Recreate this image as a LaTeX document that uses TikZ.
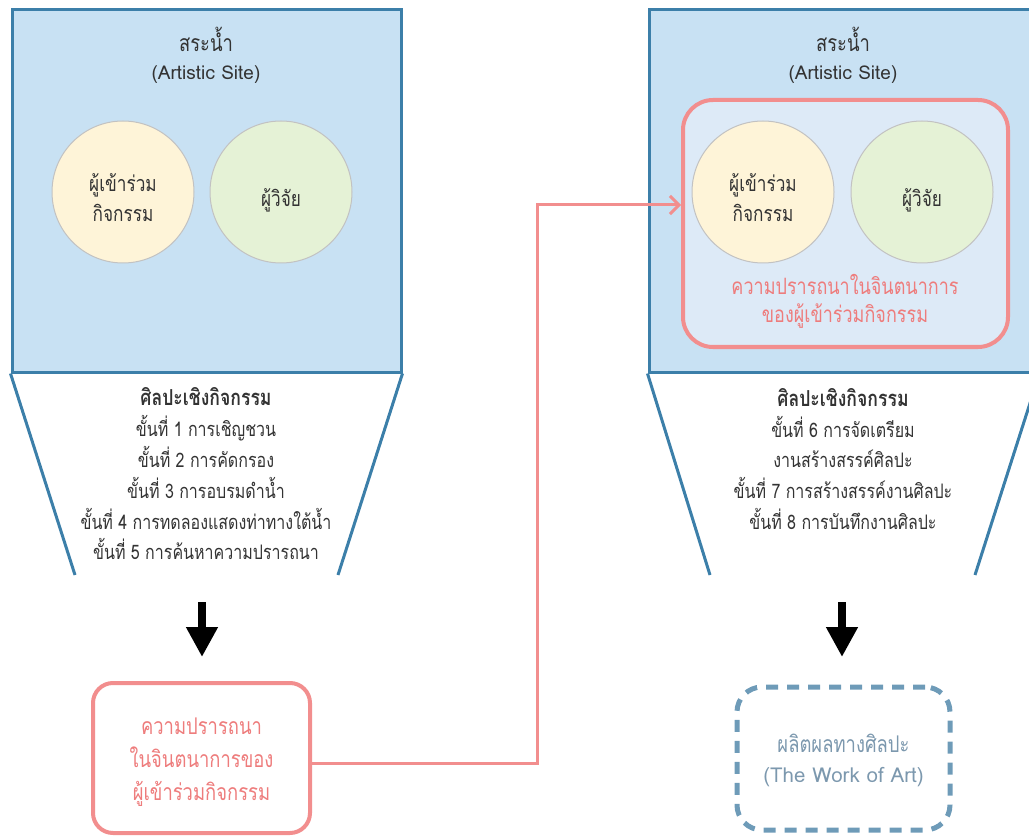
\documentclass[tikz,border=0pt]{standalone}
\usepackage{fontspec}
\setmainfont{Loma}[Script=Thai, FakeStretch=0.8]
\newfontfamily\latinfont{Loma}
\usetikzlibrary{arrows.meta,calc}

\definecolor{siteblue}{HTML}{C8E1F3}
\definecolor{siteedge}{HTML}{3C7FA9}
\definecolor{ringgray}{HTML}{C2C2C2}
\definecolor{cream}{HTML}{FEF4D8}
\definecolor{mint}{HTML}{E5F2D6}
\definecolor{wishpink}{HTML}{F28E8E}
\definecolor{wishtext}{HTML}{EE7C7C}
\definecolor{innerblue}{HTML}{DDEAF7}
\definecolor{artedge}{HTML}{6E9BB8}
\definecolor{arttext}{HTML}{7C98AE}
\definecolor{ink}{HTML}{333333}

\newcommand{\fs}[2]{\fontsize{#1pt}{#2pt}\selectfont}

\tikzset{
  sitebox/.style={draw=siteedge, fill=siteblue, line width=3pt, minimum width=389pt, minimum height=362pt, inner sep=0pt},
  funnel/.style={draw=siteedge, line width=3pt},
  person/.style={circle, draw=ringgray, line width=1pt, minimum size=142pt, inner sep=0pt, fill=#1},
  persontext/.style={text=ink, align=center, font=\fs{21.5}{30}},
  label/.style={text=ink, align=center, font=\fs{23}{28}},
  steps/.style={text=ink, align=center, font=\fs{20}{30.8}},
  wishbox/.style={draw=wishpink, fill=white, line width=4pt, rounded corners=20pt, minimum width=217pt, minimum height=150pt},
  wishframe/.style={draw=wishpink, fill=innerblue, line width=4pt, rounded corners=30pt, minimum width=325pt, minimum height=247pt, inner sep=0pt},
  wishlabel/.style={text=wishtext, align=center, font=\fs{22.5}{28}},
  wishlines/.style={text=wishtext, align=center, font=\fs{23}{33}},
  artbox/.style={draw=artedge, line width=5pt, dash pattern=on 12pt off 9pt, rounded corners=25pt, minimum width=213pt, minimum height=143pt},
  arttxt/.style={text=arttext, align=center, font=\fs{23}{30}},
  bigarrow/.style={line width=8pt, -{Triangle[width=30pt,length=30pt]}},
  flow/.style={draw=wishpink, line width=3pt, -{Straight Barb[length=9pt,width=18pt,line width=3pt]}}
}

\begin{document}
\begin{tikzpicture}[x=1pt,y=-1pt]
\useasboundingbox (0,0) rectangle (1029,837);
\clip (0,0) rectangle (1029,837);

% ---- first stage: the pool as artistic site
\node[sitebox] (siteL) at (206.5,191) {};
\coordinate (fL1) at (75,575);
\coordinate (fL2) at (338,575);
\draw[funnel] (siteL.south west) -- (fL1);
\draw[funnel] (siteL.south east) -- (fL2);
\node[label] (titleL) at (206,55) {สระน้ำ\\{\latinfont\fs{19}{28}(Artistic Site)}};
\node[person=cream] (partL) at (123,192) {};
\node[person=mint] (resL) at (281,192) {};
\node[persontext] (partLtxt) at (123,198) {ผู้เข้าร่วม\\กิจกรรม};
\node[persontext] (resLtxt) at (281,200) {ผู้วิจัย};
\node[steps] (stepsL) at (206,474) {{\fs{22}{30.8}\bfseries ศิลปะเชิงกิจกรรม}\\ขั้นที่ 1 การเชิญชวน\\ขั้นที่ 2 การคัดกรอง\\ขั้นที่ 3 การอบรมดำน้ำ\\ขั้นที่ 4 การทดลองแสดงท่าทางใต้น้ำ\\ขั้นที่ 5 การค้นหาความปรารถนา};

\coordinate (aL1) at (202,602);
\coordinate (aL2) at (202,657);
\draw[bigarrow] (aL1) -- (aL2);

\node[wishbox] (wish) at (201.5,758) {};
\node[wishlines] (wishtxt) at (201.5,762) {ความปรารถนา\\ในจินตนาการของ\\ผู้เข้าร่วมกิจกรรม};

% ---- second stage
\node[sitebox] (siteR) at (843.5,191) {};
\coordinate (fR1) at (710,575);
\coordinate (fR2) at (975,575);
\draw[funnel] (siteR.south west) -- (fR1);
\draw[funnel] (siteR.south east) -- (fR2);
\node[label] (titleR) at (843,55) {สระน้ำ\\{\latinfont\fs{19}{28}(Artistic Site)}};
\node[wishframe] (frame) at (845.5,223.5) {};
\node[person=cream] (partR) at (763,192) {};
\node[person=mint] (resR) at (922,192) {};
\node[persontext] (partRtxt) at (763,198) {ผู้เข้าร่วม\\กิจกรรม};
\node[persontext] (resRtxt) at (922,200) {ผู้วิจัย};
\node[wishlabel] (wishR) at (845,301) {ความปรารถนาในจินตนาการ\\ของผู้เข้าร่วมกิจกรรม};
\node[steps] (stepsR) at (843,459) {{\fs{22}{30.8}\bfseries ศิลปะเชิงกิจกรรม}\\ขั้นที่ 6 การจัดเตรียม\\งานสร้างสรรค์ศิลปะ\\ขั้นที่ 7 การสร้างสรรค์งานศิลปะ\\ขั้นที่ 8 การบันทึกงานศิลปะ};

\coordinate (aR1) at (842,602);
\coordinate (aR2) at (842,657);
\draw[bigarrow] (aR1) -- (aR2);

\node[artbox] (art) at (843.5,758.5) {};
\node[arttxt] (arttext) at (843.5,760) {ผลิตผลทางศิลปะ\\{\latinfont\fs{20.5}{30}(The Work of Art)}};

% ---- the wish carried into the second stage
\coordinate (turn) at (537,205);
\draw[flow] ([yshift=-5pt]wish.east) -| (turn) -- (turn -| frame.west);
\end{tikzpicture}
\end{document}
